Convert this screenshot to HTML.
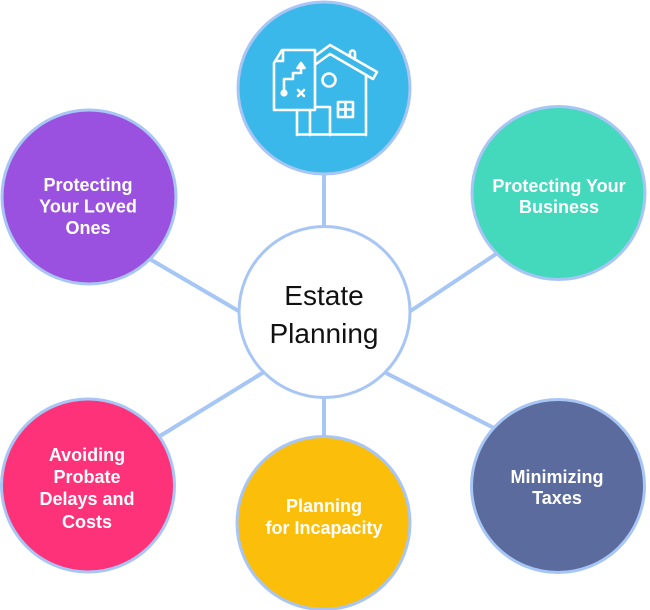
<!DOCTYPE html>
<html><head><meta charset="utf-8"><style>
html,body{margin:0;padding:0;background:#fff;}
svg{display:block;}
.t{font-family:"Liberation Sans",Arial,sans-serif;font-weight:bold;font-size:18px;fill:#fff;text-anchor:middle;}
.c{font-family:"Liberation Sans",Arial,sans-serif;font-size:28px;fill:#111;text-anchor:middle;}
</style></head><body>
<svg width="650" height="610" viewBox="0 0 650 610" xmlns="http://www.w3.org/2000/svg">
<g stroke="#a6c6f6" stroke-width="4" fill="none">
<line x1="324" y1="170" x2="324" y2="230"/>
<line x1="148" y1="258" x2="242" y2="313"/>
<line x1="499" y1="252" x2="406" y2="314"/>
<line x1="160" y1="436" x2="264" y2="372"/>
<line x1="386" y1="373" x2="496" y2="429"/>
<line x1="324" y1="394" x2="324" y2="440"/>
</g>
<g stroke="#a8c6f5" stroke-width="3">
<circle cx="324" cy="88" r="86" fill="#3ab8ea"/>
<circle cx="89" cy="197" r="87" fill="#9b51e0"/>
<circle cx="558.5" cy="193" r="86.5" fill="#44d8bc"/>
<circle cx="88" cy="485.5" r="86.5" fill="#fe3279"/>
<circle cx="323.5" cy="523" r="86.5" fill="#fbbe0b"/>
<circle cx="558" cy="486" r="86.5" fill="#5b6b9e"/>
<circle cx="324.5" cy="312" r="85.5" fill="#fff"/>
</g>
<g stroke="#fff" stroke-width="2.6" fill="none" stroke-linejoin="round" stroke-linecap="round">
<path d="M282,50 H315 V110 H274 V63 Z"/>
<path d="M276,61 H283 V51"/>
<path d="M284,93 V79 H293 V73 H301 V66"/>
<path d="M297.5,68 L301,63 L304.5,68 Z" fill="#fff"/>
<path d="M298,90 L304,96 M304,90 L298,96"/>
<path d="M297,110 V135 M310,110 V135 M315,107 H330 V135 M297,134.5 H366 M366,76 V135"/>
<path d="M315,56 L330,45 L377,72 L373,79 L330,54 L316,64"/>
<path d="M350,56 V53 A2.5,2.5 0 0 1 355,53 V59"/>
<circle cx="329" cy="80" r="6.5"/>
<rect x="338" y="102" width="15" height="15"/>
<path d="M345.5,102 V117 M338,109.5 H353"/>
</g>
<circle cx="284" cy="93" r="3.6" fill="#fff"/>
<text class="t" x="88" y="191">Protecting</text>
<text class="t" x="88" y="212.5">Your Loved</text>
<text class="t" x="88" y="234">Ones</text>
<text class="t" x="559" y="192">Protecting Your</text>
<text class="t" x="559" y="213">Business</text>
<text class="t" x="87" y="461">Avoiding</text>
<text class="t" x="87" y="483">Probate</text>
<text class="t" x="87" y="505">Delays and</text>
<text class="t" x="87" y="528">Costs</text>
<text class="t" x="324" y="512">Planning</text>
<text class="t" x="324" y="534">for Incapacity</text>
<text class="t" x="557" y="483">Minimizing</text>
<text class="t" x="557" y="504">Taxes</text>
<text class="c" x="324" y="305">Estate</text>
<text class="c" x="324" y="343">Planning</text>
</svg>
</body></html>
